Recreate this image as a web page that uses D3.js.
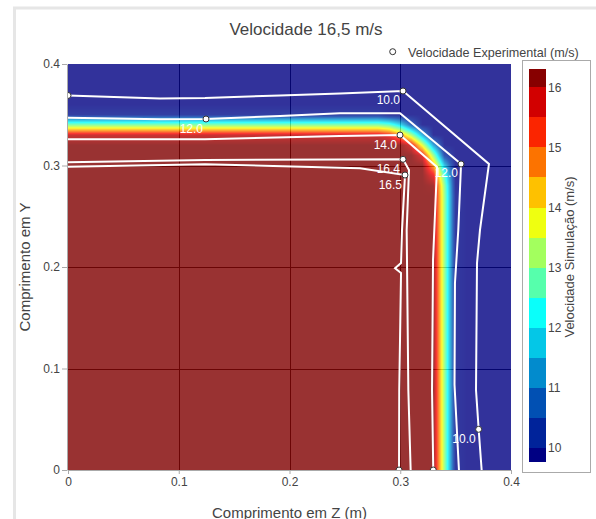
<!DOCTYPE html>
<html><head><meta charset="utf-8">
<script src="https://cdn.jsdelivr.net/npm/d3@7"></script>
<style>
body{margin:0;background:#fff;}
svg{display:block;font-family:"Liberation Sans",Arial,sans-serif;}
</style>
</head><body>
<svg id="chart" width="596" height="519"></svg>
<script>
// ---------- data ----------
// simulation velocity field (m/s) on a non-uniform grid (z columns, y rows)
const zGrid = [0, 0.1, 0.2, 0.28, 0.29, 0.30, 0.31, 0.32, 0.33, 0.34, 0.35, 0.36, 0.4];
const yGrid = [0, 0.1, 0.2, 0.27, 0.28, 0.29, 0.30, 0.31, 0.32, 0.33, 0.34, 0.35, 0.36, 0.4];
const simRows = [
  [16.3,16.3,16.3,16.3,16.3,16.3,16.3,16.3,16.3,13.09,9.89,9.77,9.77],
  [16.3,16.3,16.3,16.3,16.3,16.3,16.3,16.3,16.3,13.09,9.89,9.77,9.77],
  [16.3,16.3,16.3,16.3,16.3,16.3,16.3,16.3,16.3,13.09,9.89,9.77,9.77],
  [16.3,16.3,16.3,16.3,16.3,16.3,16.3,16.3,16.3,13.09,9.89,9.77,9.77],
  [16.3,16.3,16.3,16.3,16.3,16.3,16.3,16.3,16.2,13.01,9.81,9.77,9.77],
  [16.3,16.3,16.3,16.3,16.3,16.3,16.3,16.3,15.62,12.52,9.77,9.77,9.77],
  [16.3,16.3,16.3,16.3,16.3,16.3,16.3,16.3,14.56,11.62,9.77,9.77,9.77],
  [16.3,16.3,16.3,16.3,16.3,16.3,16.3,15.7,13.11,10.36,9.77,9.77,9.77],
  [16.3,16.3,16.3,16.3,16.3,16.3,15.74,13.69,11.34,9.77,9.77,9.77,9.77],
  [15.88,15.88,15.88,15.88,15.56,14.66,13.26,11.45,9.77,9.77,9.77,9.77,9.77],
  [12.93,12.93,12.93,12.93,12.66,11.89,10.67,9.77,9.77,9.77,9.77,9.77,9.77],
  [9.99,9.99,9.99,9.99,9.77,9.77,9.77,9.77,9.77,9.77,9.77,9.77,9.77],
  [9.77,9.77,9.77,9.77,9.77,9.77,9.77,9.77,9.77,9.77,9.77,9.77,9.77],
  [9.77,9.77,9.77,9.77,9.77,9.77,9.77,9.77,9.77,9.77,9.77,9.77,9.77]
];
const zmin = 9.77, zmax = 16.3;

// experimental iso-velocity lines
const line10Z = [0, 0.0831, 0.1237, 0.1914, 0.2456, 0.3025, 0.3801, 0.3720, 0.3693, 0.3684, 0.3708, 0.3735];
const line10Y = [0.3690, 0.3660, 0.3665, 0.3690, 0.3709, 0.3734, 0.3015, 0.2365, 0.2039, 0.0788, 0.0401, 0];
const line12Z = [0, 0.0831, 0.1246, 0.1914, 0.2456, 0.2998, 0.3549, 0.3524, 0.3494, 0.3490, 0.3530];
const line12Y = [0.3471, 0.3455, 0.3458, 0.3488, 0.3514, 0.3514, 0.3015, 0.2365, 0.1842, 0.0840, 0];
const line14Z = [0, 0.1237, 0.2456, 0.2998, 0.3332, 0.3296, 0.3287, 0.3298];
const line14Y = [0.3258, 0.3258, 0.3291, 0.3300, 0.2985, 0.2069, 0.0788, 0];
const line164Z = [0, 0.1237, 0.2456, 0.3025, 0.3079, 0.3058, 0.3073, 0.3094];
const line164Y = [0.3032, 0.3054, 0.3059, 0.3061, 0.2956, 0.2365, 0.0788, 0];
const line165Z = [0, 0.1237, 0.2637, 0.3043, 0.3016, 0.3007, 0.2953, 0.3007, 0.2991, 0.2989];
const line165Y = [0.2988, 0.3012, 0.2972, 0.2906, 0.2365, 0.2039, 0.1987, 0.1941, 0.0788, 0];

// experimental measurement points
const expZ = [0, 0.1246, 0.3025, 0.2998, 0.3549, 0.3025, 0.3043, 0.3708, 0.2989, 0.3298];
const expY = [0.3690, 0.3458, 0.3734, 0.3300, 0.3015, 0.3061, 0.2906, 0.0401, 0, 0];
const expLabel = ["", "12.0", "10.0", "14.0", "12.0", "16.4", "16.5", "10.0", "", ""];

// ticks
const zTicks = [0, 0.1, 0.2, 0.3, 0.4];
const zTickLabels = ["0", "0.1", "0.2", "0.3", "0.4"];
const yTicks = [0, 0.1, 0.2, 0.3, 0.4];
const yTickLabels = ["0", "0.1", "0.2", "0.3", "0.4"];
const cbTicks = [10, 11, 12, 13, 14, 15, 16];
const cbLevels = [9.5, 10, 10.5, 11, 11.5, 12, 12.5, 13, 13.5, 14, 14.5, 15, 15.5, 16];

// jet colour scale
const jetStops = [0, 0.125, 0.375, 0.625, 0.875, 1];
const jetColors = ['rgb(0,0,131)','rgb(0,60,170)','rgb(5,255,255)','rgb(255,255,0)','rgb(250,0,0)','rgb(128,0,0)'];

// ---------- drawing ----------
const svg = d3.select('#chart');
const x = d3.scaleLinear().domain([0, 0.4]).range([68, 511]);
const y = d3.scaleLinear().domain([0, 0.4]).range([470, 64]);
const color = d3.scaleLinear().domain(jetStops.map(t => zmin + t * (zmax - zmin))).range(jetColors).clamp(true);

// card border
svg.append('path').attr('d', 'M13,8H596M14.5,8V519')
  .attr('fill', 'none').attr('stroke', '#e6e6e6').attr('stroke-width', 3);

// grid (behind translucent heatmap)
const grid = svg.append('g');
[0.1, 0.2, 0.3].forEach(v => {
  grid.append('line').attr('x1', Math.round(x(v)) + 0.5).attr('x2', Math.round(x(v)) + 0.5)
    .attr('y1', y(0.4)).attr('y2', y(0)).attr('stroke', '#1a1a1a');
  grid.append('line').attr('y1', Math.round(y(v)) + 0.5).attr('y2', Math.round(y(v)) + 0.5)
    .attr('x1', x(0)).attr('x2', x(0.4)).attr('stroke', '#1a1a1a');
});

// heatmap (bilinear smoothing of the grid)
const W = Math.round(x(0.4) - x(0)), H = Math.round(y(0) - y(0.4));
const canvas = document.createElement('canvas');
canvas.width = W; canvas.height = H;
const ctx = canvas.getContext('2d');
const img = ctx.createImageData(W, H);
function seg(arr, v) {
  let i = d3.bisectRight(arr, v) - 1;
  i = Math.max(0, Math.min(arr.length - 2, i));
  const t = (v - arr[i]) / (arr[i + 1] - arr[i]);
  return [i, Math.max(0, Math.min(1, t))];
}
for (let py = 0; py < H; py++) {
  const yv = y.invert(y(0.4) + py + 0.5);
  const [j, ty] = seg(yGrid, yv);
  for (let px = 0; px < W; px++) {
    const zv = x.invert(x(0) + px + 0.5);
    const [i, tz] = seg(zGrid, zv);
    const v = (1 - ty) * ((1 - tz) * simRows[j][i] + tz * simRows[j][i + 1]) +
              ty * ((1 - tz) * simRows[j + 1][i] + tz * simRows[j + 1][i + 1]);
    const c = d3.rgb(color(v));
    const k = (py * W + px) * 4;
    img.data[k] = c.r; img.data[k + 1] = c.g; img.data[k + 2] = c.b; img.data[k + 3] = 255;
  }
}
ctx.putImageData(img, 0, 0);
svg.append('image').attr('href', canvas.toDataURL())
  .attr('x', x(0)).attr('y', y(0.4)).attr('width', W).attr('height', H)
  .attr('preserveAspectRatio', 'none').attr('opacity', 0.8);

// axes
const axL = svg.append('g').attr('transform', 'translate(67,0)')
  .call(d3.axisLeft(y).tickValues(yTicks).tickFormat((d, i) => yTickLabels[i]).tickSize(5).tickSizeOuter(0).tickPadding(2));
const axB = svg.append('g').attr('transform', 'translate(0,470)')
  .call(d3.axisBottom(x).tickValues(zTicks).tickFormat((d, i) => zTickLabels[i]).tickSize(4).tickSizeOuter(0).tickPadding(3));
[axL, axB].forEach(a => {
  a.select('.domain').attr('stroke', '#aaa');
  a.selectAll('.tick line').attr('stroke', '#aaa');
  a.selectAll('.tick text').attr('fill', '#444').attr('font-size', 12)
    .attr('font-family', '"Liberation Sans",Arial,sans-serif');
});

// experimental lines, points, labels (clipped to plot)
svg.append('clipPath').attr('id', 'plotclip').append('rect')
  .attr('x', x(0)).attr('y', y(0.4)).attr('width', W).attr('height', H);
const plot = svg.append('g').attr('clip-path', 'url(#plotclip)');
const lineGen = d3.line().x(d => x(d[0])).y(d => y(d[1]));
const expLines = [[line10Z, line10Y], [line12Z, line12Y], [line14Z, line14Y], [line164Z, line164Y], [line165Z, line165Y]];
expLines.forEach(([zs, ys]) => {
  plot.append('path').attr('d', lineGen(zs.map((z, i) => [z, ys[i]])))
    .attr('fill', 'none').attr('stroke', '#fff').attr('stroke-width', 2).attr('stroke-linejoin', 'miter');
});
plot.selectAll('text.lbl').data(expLabel.map((l, i) => ({ l, z: expZ[i], y: expY[i] })).filter(d => d.l))
  .join('text').attr('class', 'lbl')
  .attr('x', d => x(d.z) - 3).attr('y', d => y(d.y) + 13.5)
  .attr('text-anchor', 'end').attr('fill', '#fff').attr('font-size', 12).text(d => d.l);
plot.selectAll('circle.pt').data(expZ.map((z, i) => [z, expY[i]]))
  .join('circle').attr('class', 'pt')
  .attr('cx', d => x(d[0])).attr('cy', d => y(d[1])).attr('r', 3)
  .attr('fill', '#fff').attr('stroke', '#333').attr('stroke-width', 1);

// colorbar
const cbY = d3.scaleLinear().domain([zmin, zmax]).range([461.7, 69.3]);
svg.append('rect').attr('x', 522.5).attr('y', 60.5).attr('width', 68).attr('height', 412)
  .attr('fill', '#fff').attr('stroke', '#aaa').attr('stroke-width', 1);
svg.append('g').selectAll('rect').data(cbLevels).join('rect')
  .attr('x', 529).attr('width', 17)
  .attr('y', d => cbY(Math.min(d + 0.5, zmax)))
  .attr('height', d => cbY(Math.max(d, zmin)) - cbY(Math.min(d + 0.5, zmax)))
  .attr('fill', d => color(d + 0.25)).attr('shape-rendering', 'crispEdges');
svg.append('g').selectAll('text').data(cbTicks).join('text')
  .attr('x', 548).attr('y', d => cbY(d)).attr('dy', '0.35em')
  .attr('fill', '#444').attr('font-size', 12).text(d => d);
svg.append('text').attr('transform', 'translate(574,257) rotate(-90)')
  .attr('text-anchor', 'middle').attr('fill', '#444').attr('font-size', 13)
  .text('Velocidade Simulação (m/s)');

// titles
svg.append('text').attr('x', 306).attr('y', 35).attr('text-anchor', 'middle')
  .attr('fill', '#444').attr('font-size', 17).text('Velocidade 16,5 m/s');
svg.append('text').attr('x', 289.5).attr('y', 518).attr('text-anchor', 'middle')
  .attr('fill', '#444').attr('font-size', 15).text('Comprimento em Z (m)');
svg.append('text').attr('transform', 'translate(30,267) rotate(-90)').attr('text-anchor', 'middle')
  .attr('fill', '#444').attr('font-size', 15).text('Comprimento em Y');

// legend
svg.append('circle').attr('cx', 392.7).attr('cy', 51.7).attr('r', 3)
  .attr('fill', '#fff').attr('stroke', '#333');
svg.append('text').attr('x', 408).attr('y', 56.5).attr('fill', '#444').attr('font-size', 12.6)
  .text('Velocidade Experimental (m/s)');
</script>
</body></html>
